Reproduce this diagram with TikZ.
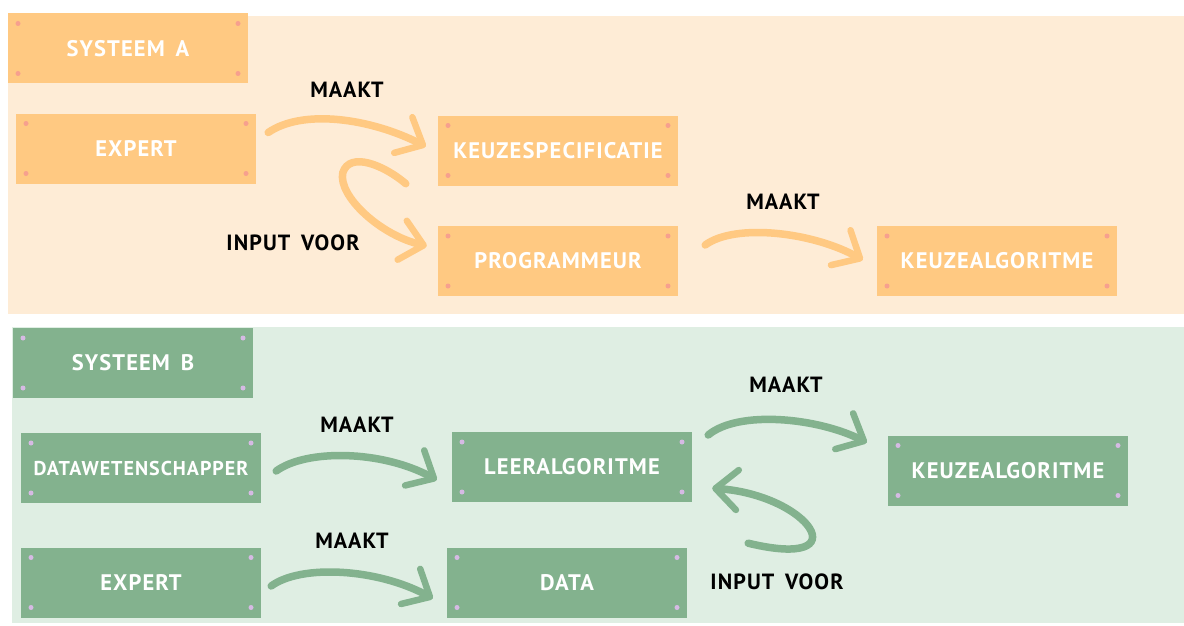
\documentclass[tikz,border=0pt]{standalone}
\usepackage{fontspec}
\setmainfont{PT Sans}
\newfontfamily\spaced[LetterSpace=5,WordSpace=1.6]{PT Sans}
\usetikzlibrary{positioning,arrows.meta,calc}

\definecolor{panelA}{HTML}{FEECD6}
\definecolor{panelB}{HTML}{DFEEE3}
\definecolor{orA}{HTML}{FFC982}
\definecolor{grB}{HTML}{83B28E}
\definecolor{dotA}{HTML}{F7A08E}
\definecolor{dotB}{HTML}{D6BAE4}

\begin{document}
\begin{tikzpicture}[x=1pt, y=-1pt,
  box/.style={minimum width=240pt, minimum height=70pt, inner sep=0pt, align=center, text=white, font=\spaced\fontsize{22.5}{26}\selectfont\bfseries},
  dots/.style={path picture={
    \fill[#1] ([shift={(10,10)}]path picture bounding box.north west) circle (2.5pt);
    \fill[#1] ([shift={(-10,10)}]path picture bounding box.north east) circle (2.5pt);
    \fill[#1] ([shift={(10,-10)}]path picture bounding box.south west) circle (2.5pt);
    \fill[#1] ([shift={(-10,-10)}]path picture bounding box.south east) circle (2.5pt);}},
  boxA/.style={box, fill=orA, dots=dotA},
  boxB/.style={box, fill=grB, dots=dotB},
  lbl/.style={font=\spaced\fontsize{22}{26}\selectfont\bfseries, text=black},
  brush/.style={line width=7.5pt, line cap=round, -{Straight Barb[length=22pt, width=40pt, line width=6.5pt, round]}},
  brushA/.style={brush, draw=orA},
  brushB/.style={brush, draw=grB}
]
\useasboundingbox (0,0) rectangle (1184,626);
\fill[panelA] (8,16) rectangle (1184,314);
\fill[panelB] (12,327) rectangle (1184,623);

\node[boxA] (hdrA) at (128,48.5) {SYSTEEM A};
\node[boxA] (expA) at (136,148.5) {EXPERT};
\node[boxA] (spec) at (558,150.5) {KEUZESPECIFICATIE};
\node[boxA] (prog) at (558,261) {PROGRAMMEUR};
\node[boxA] (algA) at (997,261) {KEUZEALGORITME};

\node[boxB] (hdrB) at (133,363) {SYSTEEM B};
\node[boxB, font=\spaced\fontsize{20}{24}\selectfont\bfseries] (dws) at (141,468) {DATAWETENSCHAPPER};
\node[boxB] (leer) at (572,467) {LEERALGORITME};
\node[boxB] (algB) at (1008,470.5) {KEUZEALGORITME};
\node[boxB] (expB) at (141,582.5) {EXPERT};
\node[boxB] (data) at (567,582.5) {DATA};

\draw[brushA] ($(expA.east)+(12,-16)$) .. controls +(35,-24) and +(-55,-28) .. ($(spec.west)+(-12,-4)$);
\draw[brushA] ($(spec.south west)+(-32,-2)$) .. controls +(-21,-18) and +(7,-22) .. ($(spec.south west)+(-95,-13)$)
  .. controls +(-5,23) and +(-47,-11) .. ($(prog.west)+(-11,-15)$);
\draw[brushA] ($(prog.east)+(27,-16)$) .. controls +(30,-22) and +(-50,-28) .. ($(algA.west)+(-14,-1)$);

\draw[brushB] ($(leer.east)+(16,-32)$) .. controls +(30,-25) and +(-50,-25) .. ($(algB.west)+(-21,-28)$);
\draw[brushB] ($(leer.south east)+(56,41)$) .. controls +(112,27) and +(98,7) .. ($(leer.south east)+(20,-14)$);
\draw[brushB] ($(dws.east)+(15,3)$) .. controls +(30,-22) and +(-55,-30) .. ($(leer.west)+(-15,13)$);
\draw[brushB] ($(expB.east)+(10,3.5)$) .. controls +(30,-22) and +(-55,-30) .. ($(data.west)+(-14,16)$);

\node[lbl] (mkA1) at (347,90) {MAAKT};
\node[lbl] (inA) at (293,243) {INPUT VOOR};
\node[lbl] (mkA2) at (783,202) {MAAKT};
\node[lbl] (mkB0) at (786,385) {MAAKT};
\node[lbl] (mkB1) at (357,425) {MAAKT};
\node[lbl] (mkB2) at (352,541) {MAAKT};
\node[lbl] (inB) at (777,582) {INPUT VOOR};
\end{tikzpicture}
\end{document}
